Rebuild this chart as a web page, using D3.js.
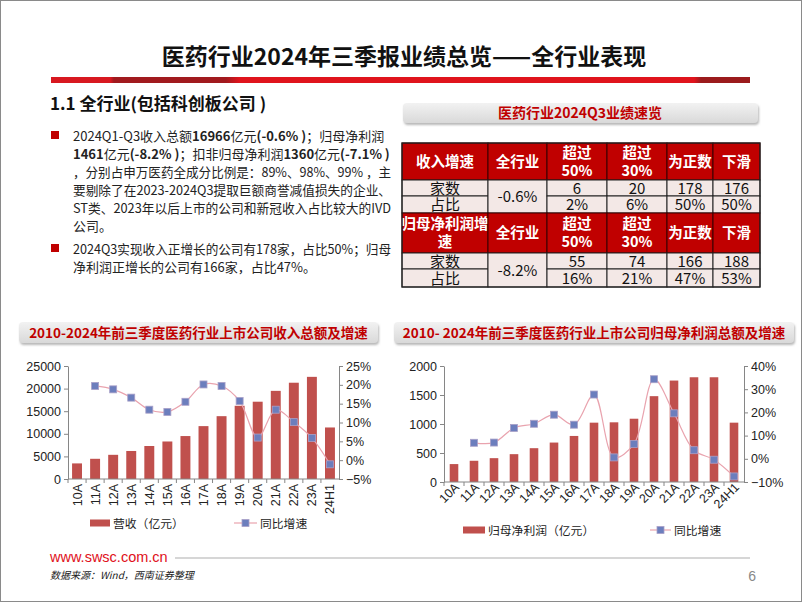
<!DOCTYPE html>
<html><head><meta charset="utf-8">
<script src="https://cdn.jsdelivr.net/npm/d3@7"></script>
<style>
body{margin:0;background:#fff;}
svg{display:block;font-family:"Noto Sans CJK SC","Noto Sans",sans-serif;}
</style></head>
<body><svg id="c" width="802" height="602"></svg>
<script>
// ---------- data ----------
const categories = ["10A","11A","12A","13A","14A","15A","16A","17A","18A","19A","20A","21A","22A","23A","24H1"];
const revenue = [3450,4470,5350,6200,7300,8300,9500,11700,13900,16200,17100,19500,21300,22600,11400];
const revenueGrowth = [null,0.197,0.188,0.166,0.134,0.128,0.155,0.201,0.197,0.157,0.060,0.134,0.101,0.059,-0.011];
const profit = [309,366,411,480,583,680,794,1023,1029,1091,1480,1749,1806,1806,1023];
const profitGrowth = [null,0.069,0.070,0.133,0.151,0.190,0.147,0.277,0.006,0.064,0.343,0.196,0.037,-0.004,-0.076];
const revTicks = [0,5000,10000,15000,20000,25000];
const revPctTicks = [-0.05,0,0.05,0.10,0.15,0.20,0.25];
const profTicks = [0,500,1000,1500,2000];
const profPctTicks = [-0.10,0,0.10,0.20,0.30,0.40];

const tableHeader1 = ["收入增速","全行业","超过|50%","超过|30%","为正数","下滑"];
const tableHeader2 = ["归母净利润增|速","全行业","超过|50%","超过|30%","为正数","下滑"];
const revCount = ["6","20","178","176"];
const revShare = ["2%","6%","50%","50%"];
const revAll = "-0.6%";
const profCount = ["55","74","166","188"];
const profShare = ["16%","21%","47%","53%"];
const profAll = "-8.2%";

const svg = d3.select("#c");
const RED = "#c00000";
const BAR = "#c0504d";

// ---------- defs ----------
const defs = svg.append("defs");
const rg = defs.append("linearGradient").attr("id","redbar").attr("x1","0").attr("x2","1");
[[0,"#d81820"],[0.085,"#d81820"],[0.09,"#a11a1e"],[0.25,"#a11a1e"],[0.27,"#e0141c"],[0.92,"#e0141c"],[0.93,"#9b1b1d"],[1,"#9b1b1d"]]
  .forEach(s=>rg.append("stop").attr("offset",s[0]).attr("stop-color",s[1]));
const gg = defs.append("linearGradient").attr("id","graybox").attr("x1","0").attr("y1","0").attr("x2","0").attr("y2","1");
gg.append("stop").attr("offset",0).attr("stop-color","#f2f2f2");
gg.append("stop").attr("offset",1).attr("stop-color","#d9d9d9");
const sh = defs.append("filter").attr("id","shadow").attr("x","-5%").attr("y","-30%").attr("width","110%").attr("height","170%");
sh.append("feDropShadow").attr("dx",1).attr("dy",2).attr("stdDeviation",1.2).attr("flood-color","#888").attr("flood-opacity",0.6);

// page border
svg.append("rect").attr("x",0.5).attr("y",0.5).attr("width",801).attr("height",601).attr("fill","#fff").attr("stroke","#8a8a8a");

// ---------- header ----------
svg.append("text").attr("x",404).attr("y",65).attr("text-anchor","middle")
  .attr("font-size",23).attr("font-weight",700).attr("fill","#111")
  .text("医药行业2024年三季报业绩总览——全行业表现");
svg.append("rect").attr("x",51).attr("y",77).attr("width",699).attr("height",6).attr("fill","url(#redbar)");

svg.append("text").attr("x",50).attr("y",110).attr("font-size",17).attr("font-weight",700).attr("fill","#111")
  .text("1.1 全行业(包括科创板公司 )");

// bullets
const bulletLines = [
  [["2024Q1-Q3收入总额",0],["16966",1],["亿元",0],["(-0.6% )",1],["；归母净利润",0]],
  [["1461",1],["亿元",0],["(-8.2% )",1],["；扣非归母净利润",0],["1360",1],["亿元",0],["(-7.1% )",1]],
  [["，分别占申万医药全成分比例是：89%、98%、99% ，主",0]],
  [["要剔除了在2023-2024Q3提取巨额商誉减值损失的企业、",0]],
  [["ST类、2023年以后上市的公司和新冠收入占比较大的IVD",0]],
  [["公司。",0]],
];
const bulletLines2 = [
  [["2024Q3实现收入正增长的公司有178家，占比50%；归母",0]],
  [["净利润正增长的公司有166家，占比47%。",0]],
];
function drawLines(lines, y0){
  lines.forEach((ln,i)=>{
    const t = svg.append("text").attr("x",73).attr("y",y0+i*17.9).attr("font-size",13).attr("fill","#222");
    ln.forEach(seg=>t.append("tspan").attr("font-weight",seg[1]?700:400).text(seg[0]));
    const w = t.node().getComputedTextLength();
    if (w > 318) t.attr("textLength",318).attr("lengthAdjust","spacingAndGlyphs");
  });
}
drawLines(bulletLines,141);
drawLines(bulletLines2,254);
[131,244].forEach(y=>svg.append("rect").attr("x",51).attr("y",y).attr("width",8).attr("height",8).attr("fill",RED));

// ---------- table ----------
svg.append("rect").attr("x",403).attr("y",103).attr("width",355).attr("height",20).attr("rx",4)
  .attr("fill","url(#graybox)").attr("filter","url(#shadow)");
svg.append("text").attr("x",580).attr("y",118).attr("text-anchor","middle").attr("font-size",14).attr("font-weight",700)
  .attr("fill",RED).text("医药行业2024Q3业绩速览");

const colX = [402,488,547,607,667,713,760];
const tbl = svg.append("g");
function headerRow(labels,y0,y1){
  labels.forEach((lab,i)=>{
    tbl.append("rect").attr("x",colX[i]).attr("y",y0).attr("width",colX[i+1]-colX[i]).attr("height",y1-y0)
      .attr("fill",RED).attr("stroke","#3a0000").attr("stroke-width",1);
    const parts = lab.split("|");
    const cx=(colX[i]+colX[i+1])/2, cy=(y0+y1)/2;
    parts.forEach((p,j)=>{
      tbl.append("text").attr("x",cx).attr("y",cy+5+(j-(parts.length-1)/2)*18).attr("text-anchor","middle")
        .attr("font-size",14.5).attr("font-weight",700).attr("fill","#fff").text(p);
    });
  });
}
function dataRows(counts,shares,all,y0,ym,y1){
  const cell=(x0,x1,ya,yb,txt)=>{
    tbl.append("rect").attr("x",x0).attr("y",ya).attr("width",x1-x0).attr("height",yb-ya)
      .attr("fill","#f3e8e6").attr("stroke","#222").attr("stroke-width",1);
    tbl.append("text").attr("x",(x0+x1)/2).attr("y",(ya+yb)/2+5.5).attr("text-anchor","middle")
      .attr("font-size",15).attr("fill","#111").text(txt);
  };
  cell(colX[0],colX[1],y0,ym,"家数");
  cell(colX[0],colX[1],ym,y1,"占比");
  cell(colX[1],colX[2],y0,y1,all);
  counts.forEach((v,i)=>cell(colX[i+2],colX[i+3],y0,ym,v));
  shares.forEach((v,i)=>cell(colX[i+2],colX[i+3],ym,y1,v));
}
headerRow(tableHeader1,143,180);
dataRows(revCount,revShare,revAll,180,196,213);
headerRow(tableHeader2,213,253);
dataRows(profCount,profShare,profAll,253,269,287);
tbl.append("rect").attr("x",colX[0]).attr("y",143).attr("width",colX[6]-colX[0]).attr("height",144)
  .attr("fill","none").attr("stroke","#222").attr("stroke-width",1.2);

// ---------- chart title boxes ----------
[[19,359,"2010-2024年前三季度医药行业上市公司收入总额及增速"],[394,400,"2010- 2024年前三季度医药行业上市公司归母净利润总额及增速"]]
.forEach(b=>{
  svg.append("rect").attr("x",b[0]).attr("y",322).attr("width",b[1]).attr("height",21).attr("rx",4)
    .attr("fill","url(#graybox)").attr("filter","url(#shadow)");
  svg.append("text").attr("x",b[0]+b[1]/2).attr("y",337.5).attr("text-anchor","middle").attr("font-size",13.5)
    .attr("font-weight",700).attr("fill",RED).text(b[2]);
});

// ---------- combo chart ----------
function combo(opt){
  const g = svg.append("g");
  const x = d3.scaleBand().domain(categories).range([opt.x0,opt.x1]).paddingInner(opt.pad).paddingOuter(opt.pad/2);
  const yL = d3.scaleLinear().domain([opt.lTicks[0],opt.lTicks[opt.lTicks.length-1]]).range([opt.yB,opt.yT]);
  const yR = d3.scaleLinear().domain([opt.rTicks[0],opt.rTicks[opt.rTicks.length-1]]).range([opt.yB,opt.yT]);
  const axL = g.append("g").attr("transform",`translate(${opt.x0},0)`)
    .call(d3.axisLeft(yL).tickValues(opt.lTicks).tickSize(4).tickSizeOuter(0).tickFormat(d3.format("d")));
  const axR = g.append("g").attr("transform",`translate(${opt.x1},0)`)
    .call(d3.axisRight(yR).tickValues(opt.rTicks).tickSize(4).tickSizeOuter(0).tickFormat(d3.format(".0%")));
  [axL,axR].forEach(a=>{
    a.selectAll("path,line").attr("stroke","#868686");
    a.selectAll("text").attr("font-family","'Liberation Sans',Arial,sans-serif").attr("font-size",12.5).attr("fill","#222");
  });
  axL.selectAll("text").attr("x",-7);
  axR.selectAll("text").attr("x",7);
  // bars
  g.selectAll(".bar").data(opt.bars).join("rect")
    .attr("x",(d,i)=>x(categories[i])).attr("width",x.bandwidth())
    .attr("y",d=>yL(d)).attr("height",d=>yL(0)-yL(d)).attr("fill",BAR);
  // x axis baseline
  const step = x.step();
  g.append("line").attr("x1",opt.x0).attr("x2",opt.x1).attr("y1",opt.yB).attr("y2",opt.yB).attr("stroke","#868686");
  categories.forEach((c,i)=>{
    const bx = x(c)+x.bandwidth()/2 - step/2;
    g.append("line").attr("x1",bx).attr("x2",bx).attr("y1",opt.yB).attr("y2",opt.yB+4).attr("stroke","#868686");
  });
  categories.forEach(c=>{
    const cx = x(c)+x.bandwidth()/2;
    const t = g.append("text").attr("font-family","'Liberation Sans',Arial,sans-serif").attr("font-size",12.5)
      .attr("fill","#222").attr("text-anchor","end").text(c);
    if(opt.rot===-90) t.attr("transform",`translate(${cx+4.5},${opt.yB+5}) rotate(-90)`);
    else t.attr("transform",`translate(${cx+6},${opt.yB+6}) rotate(-45)`);
  });
  // line
  const pts = opt.line.map((v,i)=>[x(categories[i])+x.bandwidth()/2,v]).filter(p=>p[1]!==null);
  g.append("path").datum(pts).attr("fill","none").attr("stroke","#e9a3ae").attr("stroke-width",1.2)
    .attr("d",d3.line().x(p=>p[0]).y(p=>yR(p[1])).curve(d3.curveCatmullRom.alpha(0.5)));
  g.selectAll(".mk").data(pts).join("rect").attr("x",p=>p[0]-3.5).attr("y",p=>yR(p[1])-3.5)
    .attr("width",7).attr("height",7).attr("fill","#6c7ebd").attr("stroke","#a9a0c8").attr("stroke-width",0.8);
  // legend
  const L = opt.legend;
  g.append("rect").attr("x",L.bx).attr("y",L.y-3.5).attr("width",L.bw).attr("height",7).attr("fill",BAR);
  g.append("text").attr("x",L.bx+L.bw+3).attr("y",L.y+4.5).attr("font-size",11.8).attr("fill","#222").text(L.t1);
  g.append("line").attr("x1",L.lx).attr("x2",L.lx+L.lw).attr("y1",L.y).attr("y2",L.y).attr("stroke","#e9a3ae").attr("stroke-width",1.2);
  g.append("rect").attr("x",L.lx+L.lw/2-3.5).attr("y",L.y-3.5).attr("width",7).attr("height",7).attr("fill","#6c7ebd").attr("stroke","#a9a0c8").attr("stroke-width",0.8);
  g.append("text").attr("x",L.lx+L.lw+3).attr("y",L.y+4.5).attr("font-size",11.8).attr("fill","#222").text(L.t2);
}

combo({x0:68,x1:339,yT:366,yB:479,pad:0.45,lTicks:revTicks,rTicks:revPctTicks,bars:revenue,line:revenueGrowth,rot:-90,
  legend:{bx:90,bw:20,lx:234,lw:23,y:523,t1:"营收（亿元）",t2:"同比增速"}});
combo({x0:444,x1:744,yT:366,yB:482,pad:0.57,lTicks:profTicks,rTicks:profPctTicks,bars:profit,line:profitGrowth,rot:-45,
  legend:{bx:463,bw:22,lx:650,lw:21,y:530,t1:"归母净利润（亿元）",t2:"同比增速"}});

// ---------- footer ----------
svg.append("text").attr("x",50).attr("y",562).attr("font-family","'Liberation Sans',Arial,sans-serif").attr("font-size",14.5)
  .attr("fill","#e0101a").text("www.swsc.com.cn");
svg.append("line").attr("x1",175).attr("x2",750).attr("y1",558).attr("y2",558).attr("stroke","#c8c8c8").attr("stroke-width",1.5);
svg.append("text").attr("x",50).attr("y",579).attr("font-size",10).attr("font-style","italic").attr("fill","#222")
  .text("数据来源：Wind，西南证券整理");
svg.append("text").attr("x",756).attr("y",581).attr("text-anchor","end").attr("font-family","'Liberation Sans',Arial,sans-serif")
  .attr("font-size",14).attr("fill","#888").text("6");
</script></body></html>
